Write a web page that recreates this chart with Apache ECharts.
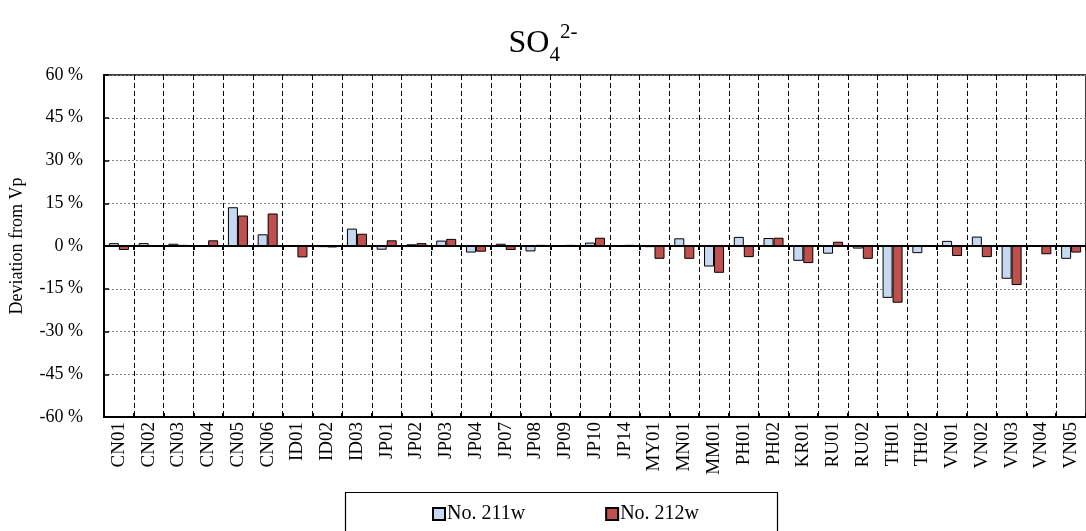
<!DOCTYPE html>
<html>
<head>
<meta charset="utf-8">
<script src="https://cdn.jsdelivr.net/npm/echarts@6/dist/echarts.min.js"></script>
<style>
html,body{margin:0;padding:0;background:#fff;}
#chart{width:1086px;height:531px;}
</style>
</head>
<body>
<div id="chart"></div>
<script>
const categories = ['CN01','CN02','CN03','CN04','CN05','CN06','ID01','ID02','ID03','JP01','JP02','JP03','JP04','JP07','JP08','JP09','JP10','JP14','MY01','MN01','MM01','PH01','PH02','KR01','RU01','RU02','TH01','TH02','VN01','VN02','VN03','VN04','VN05'];
const no211w = [1.0, 1.0, 0.8, 0.1, 13.6, 4.1, -0.3, -0.4, 6.1, -1.3, 0.6, 1.9, -2.3, 0.8, -1.9, 0.2, 1.2, 0.1, -0.4, 2.7, -7.2, 3.2, 2.8, -5.2, -2.7, -0.9, -18.2, -2.5, 1.8, 3.3, -11.5, -0.3, -4.5];
const no212w = [-1.4, 0.1, 0.4, 2.0, 10.7, 11.4, -4.0, -0.5, 4.3, 2.0, 1.0, 2.5, -2.0, -1.4, 0.4, 0.4, 2.9, 0.4, -4.5, -4.5, -9.4, -3.9, 2.9, -6.0, 1.5, -4.5, -19.9, 0.3, -3.5, -3.9, -13.7, -2.9, -2.3];
const seriesNames = ['No. 211w', 'No. 212w'];
const yTicks = {min: -60, max: 60, interval: 15};

const FONT = '"Liberation Serif", "Times New Roman", serif';
const chart = echarts.init(document.getElementById('chart'));
const option = {
  animation: false,
  backgroundColor: '#fff',
  textStyle: {fontFamily: FONT, color: '#000'},
  title: {
    text: 'SO{sub|4}{sup|2-}',
    left: 'center',
    top: 17,
    textStyle: {
      fontFamily: FONT, fontSize: 32, fontWeight: 'normal', color: '#000', lineHeight: 44,
      rich: {
        sub: {fontFamily: FONT, fontSize: 21, color: '#000', verticalAlign: 'bottom', lineHeight: 21},
        sup: {fontFamily: FONT, fontSize: 21, color: '#000', verticalAlign: 'top', lineHeight: 21}
      }
    }
  },
  legend: {
    left: 427, top: 499,
    itemWidth: 12, itemHeight: 12, itemGap: 80,
    icon: 'rect',
    textStyle: {fontFamily: FONT, fontSize: 20, color: '#000', padding: [0,0,0,-3]},
    data: seriesNames
  },
  graphic: [{
    type: 'rect', left: 343, top: 490,
    shape: {width: 432, height: 60},
    style: {fill: 'none', stroke: '#000', lineWidth: 1.2},
    silent: true
  }],
  grid: {
    left: 104, top: 75, width: 990, height: 342,
    show: true, borderColor: '#000', borderWidth: 1.5, backgroundColor: 'transparent'
  },
  xAxis: [
    {
      type: 'category', data: categories, position: 'bottom',
      axisLine: {onZero: false, lineStyle: {color: '#000', width: 2}},
      axisTick: {show: false},
      axisLabel: {rotate: 90, margin: 5, fontFamily: FONT, fontSize: 19, color: '#000', interval: 0},
      splitLine: {show: true, interval: 0, lineStyle: {color: '#000', type: [5, 3], width: 1}}
    },
    {
      type: 'category', data: categories, position: 'bottom',
      axisLine: {onZero: true, lineStyle: {color: '#000', width: 2}},
      axisTick: {show: true, inside: false, length: 4, interval: 0, lineStyle: {color: '#000', width: 2}},
      axisLabel: {show: false}, splitLine: {show: false}
    },
    {
      type: 'category', data: categories, position: 'bottom',
      axisLine: {onZero: true, lineStyle: {color: '#000', width: 2}},
      axisTick: {show: true, inside: true, length: 4, interval: 0, lineStyle: {color: '#000', width: 2}},
      axisLabel: {show: false}, splitLine: {show: false}
    }
  ],
  yAxis: {
    type: 'value', min: yTicks.min, max: yTicks.max, interval: yTicks.interval,
    name: 'Deviation from Vp', nameLocation: 'middle', nameGap: 78,
    nameTextStyle: {fontFamily: FONT, fontSize: 18, color: '#000'},
    axisLine: {show: true, lineStyle: {color: '#000', width: 2}},
    axisTick: {show: true, inside: true, length: 5, lineStyle: {color: '#000', width: 1.5}},
    axisLabel: {formatter: '{value} %', margin: 21, fontFamily: FONT, fontSize: 18, color: '#000'},
    splitLine: {show: true, lineStyle: {color: '#808080', type: [2, 2], width: 1}}
  },
  series: [
    {
      name: seriesNames[0], type: 'bar', data: no211w, xAxisIndex: 0,
      barWidth: 10, barGap: '0%',
      itemStyle: {color: '#C6D9F1', borderColor: '#000', borderWidth: 1}
    },
    {
      name: seriesNames[1], type: 'bar', data: no212w, xAxisIndex: 0,
      barWidth: 10, barGap: '0%',
      itemStyle: {color: '#C0504D', borderColor: '#000', borderWidth: 1}
    }
  ]
};
chart.setOption(option);
</script>
</body>
</html>
